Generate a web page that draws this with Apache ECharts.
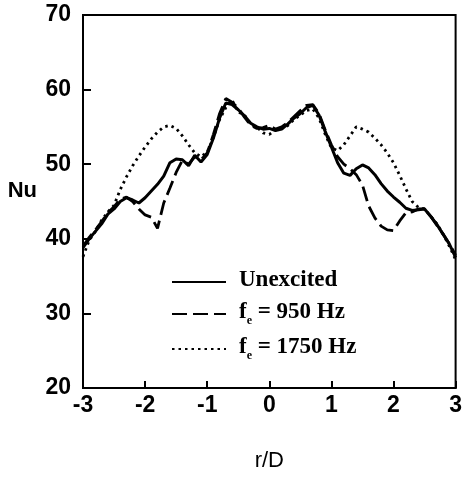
<!DOCTYPE html>
<html>
<head>
<meta charset="utf-8">
<script src="https://cdn.jsdelivr.net/npm/echarts@6/dist/echarts.min.js"></script>
<style>
  html, body { margin: 0; padding: 0; background: #fff; }
  #chart { width: 465px; height: 478px; }
</style>
</head>
<body>
<div id="chart"></div>
<script>
// Radial position r/D, shared by all three profiles
const rOverD = [
  -3.0, -2.9, -2.8, -2.7, -2.6, -2.5, -2.4, -2.3, -2.2, -2.1,
  -2.0, -1.9, -1.8, -1.7, -1.6, -1.5, -1.4, -1.3, -1.2, -1.1,
  -1.0, -0.9, -0.8, -0.7, -0.6, -0.5, -0.4, -0.3, -0.2, -0.1,
   0.0,  0.1,  0.2,  0.3,  0.4,  0.5,  0.6,  0.7,  0.8,  0.9,
   1.0,  1.1,  1.2,  1.3,  1.4,  1.5,  1.6,  1.7,  1.8,  1.9,
   2.0,  2.1,  2.2,  2.3,  2.4,  2.5,  2.6,  2.7,  2.8,  2.9,  3.0
];

// Nusselt number, unexcited jet
const nuUnexcited = [
  38.8, 40.0, 41.0, 42.0, 43.3, 44.0, 45.0, 45.5, 45.2, 44.8,
  45.5, 46.4, 47.3, 48.4, 50.2, 50.7, 50.6, 49.8, 51.2, 50.3,
  51.3, 53.5, 56.2, 58.2, 58.0, 57.3, 56.5, 55.5, 55.0, 54.7,
  54.8, 54.5, 54.7, 55.4, 56.2, 56.8, 57.6, 57.9, 56.6, 54.4,
  52.3, 50.2, 48.8, 48.5, 49.4, 49.9, 49.5, 48.6, 47.4, 46.4,
  45.6, 44.9, 44.1, 43.8, 43.9, 44.0, 43.0, 41.9, 40.6, 39.3, 37.5
];

// Nusselt number, excitation at 950 Hz
const nu950 = [
  39.0, 40.2, 41.2, 42.3, 43.5, 44.3, 45.3, 45.6, 45.0, 44.0,
  43.2, 42.9, 41.4, 44.8, 46.8, 48.9, 50.5, 50.0, 51.0, 50.6,
  51.5, 54.0, 56.8, 58.8, 58.3, 57.5, 56.3, 55.2, 54.8, 54.9,
  55.2, 54.7, 55.0, 55.6, 56.4, 57.2, 57.9, 58.0, 56.8, 54.6,
  52.6, 51.0, 50.0, 49.4, 48.6, 47.2, 44.4, 42.8, 41.7, 41.2,
  41.1, 42.4, 43.5, 43.6, 44.0, 44.0, 43.0, 41.8, 40.6, 39.3, 37.8
];

// Nusselt number, excitation at 1750 Hz
const nu1750 = [
  37.6, 39.8, 41.0, 42.5, 43.6, 44.5, 46.6, 48.3, 49.8, 51.1,
  52.3, 53.4, 54.3, 55.0, 55.2, 54.8, 53.8, 52.6, 51.5, 51.0,
  51.6, 53.6, 56.0, 57.6, 58.6, 57.0, 56.6, 55.3, 55.0, 54.2,
  54.0, 54.6, 54.8, 55.2, 56.0, 56.6, 57.2, 57.4, 56.2, 54.0,
  52.2, 51.8, 52.6, 53.8, 55.0, 54.7, 54.3, 53.5, 52.6, 51.5,
  50.2, 48.5, 46.7, 45.0, 44.2, 44.0, 43.0, 42.0, 40.6, 39.0, 37.2
];

// Axis tick labels
const xTicks = ['-3', '-2', '-1', '0', '1', '2', '3'];
const yTicks = ['20', '30', '40', '50', '60', '70'];

const seriesNames = ['Unexcited', 'fe950', 'fe1750'];
const legendText = {
  Unexcited: '{t|Unexcited}',
  fe950: '{t|f}{sub|e}{t| = 950 Hz}',
  fe1750: '{t|f}{sub|e}{t| = 1750 Hz}'
};

const pairs = (ys) => rOverD.map((x, i) => [x, ys[i]]);

const chart = echarts.init(document.getElementById('chart'), null, { renderer: 'canvas' });

const tickFont = { fontFamily: 'Liberation Sans', fontWeight: 'bold', fontSize: 23, color: '#000' };
const serifBold = { fontFamily: 'Liberation Serif', fontWeight: 'bold', color: '#000' };

chart.setOption({
  backgroundColor: '#fff',
  animation: false,
  grid: {
    left: 83, right: 9, top: 15, bottom: 90,
    show: true, borderColor: '#000', borderWidth: 2
  },
  legend: {
    data: seriesNames,
    orient: 'vertical',
    left: 166,
    top: 264,
    itemWidth: 54,
    itemHeight: 14,
    itemGap: 7,
    itemStyle: { opacity: 0 },
    formatter: (name) => legendText[name],
    textStyle: {
      ...serifBold,
      fontSize: 23,
      padding: [0, 0, 0, 8],
      rich: {
        t: { ...serifBold, fontSize: 23, lineHeight: 26, verticalAlign: 'top' },
        sub: { ...serifBold, fontSize: 12, lineHeight: 12, verticalAlign: 'bottom', padding: [16, 0, 0, 0] }
      }
    }
  },
  xAxis: {
    type: 'value',
    min: -3, max: 3, interval: 1,
    name: 'r/D',
    nameLocation: 'middle',
    nameGap: 62,
    nameTextStyle: { fontFamily: 'Liberation Sans', fontSize: 22, color: '#000' },
    axisLine: { show: true, onZero: false, lineStyle: { color: '#000', width: 2 } },
    axisTick: { show: true, inside: true, length: 7, lineStyle: { color: '#000', width: 2 } },
    axisLabel: {
      ...tickFont, margin: 6,
      formatter: (v) => xTicks[Math.round(v) + 3]
    },
    splitLine: { show: false }
  },
  yAxis: {
    type: 'value',
    min: 20, max: 70, interval: 10,
    name: 'Nu',
    nameLocation: 'middle',
    nameRotate: 0,
    nameGap: 46,
    nameTextStyle: { fontFamily: 'Liberation Sans', fontWeight: 'bold', fontSize: 22, color: '#000', verticalAlign: 'bottom' },
    axisLine: { show: true, onZero: false, lineStyle: { color: '#000', width: 2 } },
    axisTick: { show: true, inside: true, length: 8, lineStyle: { color: '#000', width: 2 } },
    axisLabel: {
      ...tickFont, margin: 12,
      formatter: (v) => yTicks[Math.round((v - 20) / 10)]
    },
    splitLine: { show: false }
  },
  series: [
    {
      name: 'Unexcited', type: 'line', data: pairs(nuUnexcited),
      symbol: 'none',
      lineStyle: { color: '#000', width: 3, type: 'solid' },
      itemStyle: { color: '#000' }
    },
    {
      name: 'fe950', type: 'line', data: pairs(nu950),
      symbol: 'none',
      lineStyle: { color: '#000', width: 2.8, type: [15, 6] },
      itemStyle: { color: '#000' }
    },
    {
      name: 'fe1750', type: 'line', data: pairs(nu1750),
      symbol: 'none',
      lineStyle: { color: '#000', width: 2.8, type: [2.5, 4] },
      itemStyle: { color: '#000' }
    }
  ]
});
</script>
</body>
</html>
